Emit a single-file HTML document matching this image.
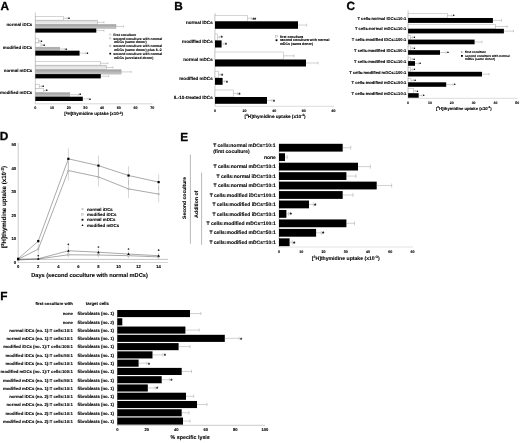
<!DOCTYPE html>
<html><head><meta charset="utf-8"><title>Figure</title>
<style>
html,body{margin:0;padding:0;background:#fff;}
svg{display:block;font-family:"Liberation Sans", sans-serif;text-rendering:geometricPrecision;}
</style></head>
<body>
<svg width="520" height="443" viewBox="0 0 520 443">
<defs>
<linearGradient id="gl" x1="0" y1="0" x2="0" y2="1"><stop offset="0" stop-color="#d4d4d4"/><stop offset="0.45" stop-color="#e6e6e6"/><stop offset="1" stop-color="#f0f0f0"/></linearGradient>
<linearGradient id="gg" x1="0" y1="0" x2="0" y2="1"><stop offset="0" stop-color="#9c9c9c"/><stop offset="0.5" stop-color="#b4b4b4"/><stop offset="1" stop-color="#cacaca"/></linearGradient>
</defs>
<rect x="0" y="0" width="520" height="443" fill="#fff"/>
<g>
<text x="0.40" y="9.90" font-size="11.8" text-anchor="start" font-weight="bold" fill="#000" stroke="#000" stroke-width="0.3">A</text>
<line x1="35.30" y1="12.50" x2="35.30" y2="103.80" stroke="#aaa" stroke-width="0.6"/>
<line x1="35.30" y1="103.80" x2="152.50" y2="103.80" stroke="#bbb" stroke-width="0.6"/>
<text x="32.30" y="26.40" font-size="4.4" text-anchor="end" font-weight="bold" fill="#000" stroke="#000" stroke-width="0.1">normal iDCs</text>
<rect x="35.30" y="16.30" width="28.40" height="3.90" fill="#fff" stroke="#aaa" stroke-width="0.5"/>
<line x1="63.70" y1="18.25" x2="67.20" y2="18.25" stroke="#8c8c8c" stroke-width="0.4"/>
<line x1="67.20" y1="17.25" x2="67.20" y2="19.25" stroke="#8c8c8c" stroke-width="0.4"/>
<text x="68.20" y="19.93" font-size="3.54" text-anchor="start" font-weight="bold" fill="#111" stroke="#111" stroke-width="0.25">*</text>
<rect x="35.30" y="20.20" width="62.00" height="4.20" fill="url(#gl)" stroke="#aaa" stroke-width="0.5"/>
<line x1="97.30" y1="22.30" x2="104.00" y2="22.30" stroke="#8c8c8c" stroke-width="0.4"/>
<line x1="104.00" y1="21.30" x2="104.00" y2="23.30" stroke="#8c8c8c" stroke-width="0.4"/>
<rect x="35.30" y="24.40" width="80.70" height="4.10" fill="url(#gg)" stroke="#aaa" stroke-width="0.5"/>
<line x1="116.00" y1="26.45" x2="123.60" y2="26.45" stroke="#8c8c8c" stroke-width="0.4"/>
<line x1="123.60" y1="25.45" x2="123.60" y2="27.45" stroke="#8c8c8c" stroke-width="0.4"/>
<rect x="35.30" y="28.50" width="61.00" height="4.10" fill="#000"/>
<line x1="96.30" y1="30.55" x2="104.00" y2="30.55" stroke="#8c8c8c" stroke-width="0.4"/>
<line x1="104.00" y1="29.55" x2="104.00" y2="31.55" stroke="#8c8c8c" stroke-width="0.4"/>
<text x="32.30" y="48.80" font-size="4.4" text-anchor="end" font-weight="bold" fill="#000" stroke="#000" stroke-width="0.1">modified iDCs</text>
<rect x="35.30" y="38.80" width="3.00" height="4.10" fill="#fff" stroke="#aaa" stroke-width="0.5"/>
<line x1="38.30" y1="40.85" x2="39.80" y2="40.85" stroke="#8c8c8c" stroke-width="0.4"/>
<line x1="39.80" y1="39.85" x2="39.80" y2="41.85" stroke="#8c8c8c" stroke-width="0.4"/>
<text x="40.80" y="42.53" font-size="3.54" text-anchor="start" font-weight="bold" fill="#111" stroke="#111" stroke-width="0.25">*</text>
<rect x="35.30" y="42.90" width="5.70" height="4.30" fill="#fff" stroke="#aaa" stroke-width="0.5"/>
<line x1="41.00" y1="45.05" x2="42.40" y2="45.05" stroke="#8c8c8c" stroke-width="0.4"/>
<line x1="42.40" y1="44.05" x2="42.40" y2="46.05" stroke="#8c8c8c" stroke-width="0.4"/>
<text x="43.40" y="46.73" font-size="3.54" text-anchor="start" font-weight="bold" fill="#111" stroke="#111" stroke-width="0.25">*</text>
<rect x="35.30" y="47.20" width="24.50" height="3.50" fill="url(#gg)" stroke="#aaa" stroke-width="0.5"/>
<line x1="59.80" y1="48.95" x2="64.40" y2="48.95" stroke="#8c8c8c" stroke-width="0.4"/>
<line x1="64.40" y1="47.95" x2="64.40" y2="49.95" stroke="#8c8c8c" stroke-width="0.4"/>
<text x="65.40" y="50.63" font-size="3.54" text-anchor="start" font-weight="bold" fill="#111" stroke="#111" stroke-width="0.25">*</text>
<rect x="35.30" y="50.70" width="44.30" height="4.90" fill="#000"/>
<line x1="79.60" y1="53.15" x2="85.80" y2="53.15" stroke="#8c8c8c" stroke-width="0.4"/>
<line x1="85.80" y1="52.15" x2="85.80" y2="54.15" stroke="#8c8c8c" stroke-width="0.4"/>
<text x="86.80" y="54.83" font-size="3.54" text-anchor="start" font-weight="bold" fill="#111" stroke="#111" stroke-width="0.25">*</text>
<text x="32.30" y="71.80" font-size="4.4" text-anchor="end" font-weight="bold" fill="#000" stroke="#000" stroke-width="0.1">normal mDCs</text>
<rect x="35.30" y="61.40" width="65.10" height="3.80" fill="#fff" stroke="#aaa" stroke-width="0.5"/>
<line x1="100.40" y1="63.30" x2="107.80" y2="63.30" stroke="#8c8c8c" stroke-width="0.4"/>
<line x1="107.80" y1="62.30" x2="107.80" y2="64.30" stroke="#8c8c8c" stroke-width="0.4"/>
<rect x="35.30" y="65.20" width="70.90" height="4.50" fill="url(#gl)" stroke="#aaa" stroke-width="0.5"/>
<line x1="106.20" y1="67.45" x2="113.00" y2="67.45" stroke="#8c8c8c" stroke-width="0.4"/>
<line x1="113.00" y1="66.45" x2="113.00" y2="68.45" stroke="#8c8c8c" stroke-width="0.4"/>
<rect x="35.30" y="69.70" width="85.80" height="4.40" fill="url(#gg)" stroke="#aaa" stroke-width="0.5"/>
<line x1="121.10" y1="71.90" x2="131.30" y2="71.90" stroke="#8c8c8c" stroke-width="0.4"/>
<line x1="131.30" y1="70.90" x2="131.30" y2="72.90" stroke="#8c8c8c" stroke-width="0.4"/>
<rect x="35.30" y="74.10" width="65.50" height="4.30" fill="#000"/>
<line x1="100.80" y1="76.25" x2="108.80" y2="76.25" stroke="#8c8c8c" stroke-width="0.4"/>
<line x1="108.80" y1="75.25" x2="108.80" y2="77.25" stroke="#8c8c8c" stroke-width="0.4"/>
<text x="32.30" y="94.30" font-size="4.4" text-anchor="end" font-weight="bold" fill="#000" stroke="#000" stroke-width="0.1">modified mDCs</text>
<rect x="35.30" y="84.20" width="3.90" height="4.30" fill="#fff" stroke="#aaa" stroke-width="0.5"/>
<line x1="39.20" y1="86.35" x2="41.50" y2="86.35" stroke="#8c8c8c" stroke-width="0.4"/>
<line x1="41.50" y1="85.35" x2="41.50" y2="87.35" stroke="#8c8c8c" stroke-width="0.4"/>
<text x="42.50" y="88.03" font-size="3.54" text-anchor="start" font-weight="bold" fill="#111" stroke="#111" stroke-width="0.25">*</text>
<rect x="35.30" y="88.50" width="8.30" height="4.20" fill="#fff" stroke="#aaa" stroke-width="0.5"/>
<line x1="43.60" y1="90.60" x2="45.00" y2="90.60" stroke="#8c8c8c" stroke-width="0.4"/>
<line x1="45.00" y1="89.60" x2="45.00" y2="91.60" stroke="#8c8c8c" stroke-width="0.4"/>
<text x="46.00" y="92.28" font-size="3.54" text-anchor="start" font-weight="bold" fill="#111" stroke="#111" stroke-width="0.25">*</text>
<rect x="35.30" y="92.70" width="34.50" height="4.00" fill="url(#gg)" stroke="#aaa" stroke-width="0.5"/>
<line x1="69.80" y1="94.70" x2="78.50" y2="94.70" stroke="#8c8c8c" stroke-width="0.4"/>
<line x1="78.50" y1="93.70" x2="78.50" y2="95.70" stroke="#8c8c8c" stroke-width="0.4"/>
<text x="79.50" y="96.38" font-size="3.54" text-anchor="start" font-weight="bold" fill="#111" stroke="#111" stroke-width="0.25">*</text>
<rect x="35.30" y="96.70" width="47.50" height="4.30" fill="#000"/>
<line x1="82.80" y1="98.85" x2="88.30" y2="98.85" stroke="#8c8c8c" stroke-width="0.4"/>
<line x1="88.30" y1="97.85" x2="88.30" y2="99.85" stroke="#8c8c8c" stroke-width="0.4"/>
<text x="89.30" y="100.53" font-size="3.54" text-anchor="start" font-weight="bold" fill="#111" stroke="#111" stroke-width="0.25">*</text>
<text x="35.30" y="109.10" font-size="3.7" text-anchor="middle" font-weight="bold" fill="#000" stroke="#000" stroke-width="0.1">0</text>
<text x="52.00" y="109.10" font-size="3.7" text-anchor="middle" font-weight="bold" fill="#000" stroke="#000" stroke-width="0.1">10</text>
<text x="68.70" y="109.10" font-size="3.7" text-anchor="middle" font-weight="bold" fill="#000" stroke="#000" stroke-width="0.1">20</text>
<text x="85.40" y="109.10" font-size="3.7" text-anchor="middle" font-weight="bold" fill="#000" stroke="#000" stroke-width="0.1">30</text>
<text x="102.10" y="109.10" font-size="3.7" text-anchor="middle" font-weight="bold" fill="#000" stroke="#000" stroke-width="0.1">40</text>
<text x="118.80" y="109.10" font-size="3.7" text-anchor="middle" font-weight="bold" fill="#000" stroke="#000" stroke-width="0.1">50</text>
<text x="135.50" y="109.10" font-size="3.7" text-anchor="middle" font-weight="bold" fill="#000" stroke="#000" stroke-width="0.1">60</text>
<text x="152.20" y="109.10" font-size="3.7" text-anchor="middle" font-weight="bold" fill="#000" stroke="#000" stroke-width="0.1">70</text>
<text x="93.60" y="115.20" font-size="4.45" text-anchor="middle" font-weight="bold" fill="#000" stroke="#000" stroke-width="0.1">[<tspan font-size="70%" dy="-0.35em">3</tspan><tspan dy="0.245em">H]thymidine uptake (x10</tspan><tspan font-size="70%" dy="-0.35em">-3</tspan><tspan dy="0.245em">)</tspan></text>
<circle cx="110.2" cy="34.60" r="0.85" fill="#fff" stroke="#999" stroke-width="0.35"/>
<text x="113.30" y="35.80" font-size="3.45" text-anchor="start" font-weight="bold" fill="#000" stroke="#000" stroke-width="0.1">first coculture</text>
<circle cx="110.2" cy="38.30" r="0.85" fill="#eee" stroke="#999" stroke-width="0.35"/>
<text x="113.30" y="39.50" font-size="3.45" text-anchor="start" font-weight="bold" fill="#000" stroke="#000" stroke-width="0.1">second coculture with normal</text>
<text x="114.00" y="43.20" font-size="3.45" text-anchor="start" font-weight="bold" fill="#000" stroke="#000" stroke-width="0.1">mDCs (same donor)</text>
<circle cx="110.2" cy="45.90" r="0.85" fill="#bbb" stroke="#999" stroke-width="0.35"/>
<text x="113.30" y="47.10" font-size="3.45" text-anchor="start" font-weight="bold" fill="#000" stroke="#000" stroke-width="0.1">second coculture with normal</text>
<text x="114.00" y="51.10" font-size="3.45" text-anchor="start" font-weight="bold" fill="#000" stroke="#000" stroke-width="0.1">mDCs (same donor) plus IL-2</text>
<rect x="109.40" y="52.80" width="1.70" height="1.70" fill="#000"/>
<text x="113.30" y="54.80" font-size="3.45" text-anchor="start" font-weight="bold" fill="#000" stroke="#000" stroke-width="0.1">second coculture with normal</text>
<text x="114.00" y="58.60" font-size="3.45" text-anchor="start" font-weight="bold" fill="#000" stroke="#000" stroke-width="0.1">mDCs (unrelated donor)</text>
<text x="174.30" y="10.20" font-size="11.8" text-anchor="start" font-weight="bold" fill="#000" stroke="#000" stroke-width="0.3">B</text>
<line x1="215.00" y1="13.00" x2="215.00" y2="106.30" stroke="#aaa" stroke-width="0.6"/>
<line x1="215.00" y1="106.30" x2="334.00" y2="106.30" stroke="#c4c4c4" stroke-width="0.6"/>
<text x="212.70" y="24.00" font-size="4.55" text-anchor="end" font-weight="bold" fill="#000" stroke="#000" stroke-width="0.1">normal iDCs</text>
<rect x="215.00" y="15.40" width="32.70" height="5.90" fill="#fff" stroke="#aaa" stroke-width="0.5"/>
<line x1="247.70" y1="18.35" x2="251.40" y2="18.35" stroke="#8c8c8c" stroke-width="0.4"/>
<line x1="251.40" y1="16.95" x2="251.40" y2="19.75" stroke="#8c8c8c" stroke-width="0.4"/>
<text x="252.40" y="20.69" font-size="4.72" text-anchor="start" font-weight="bold" fill="#111" stroke="#111" stroke-width="0.25">**</text>
<rect x="215.00" y="21.30" width="83.00" height="7.50" fill="#000"/>
<line x1="298.00" y1="25.05" x2="306.70" y2="25.05" stroke="#8c8c8c" stroke-width="0.4"/>
<line x1="306.70" y1="23.65" x2="306.70" y2="26.45" stroke="#8c8c8c" stroke-width="0.4"/>
<text x="212.70" y="42.60" font-size="4.55" text-anchor="end" font-weight="bold" fill="#000" stroke="#000" stroke-width="0.1">modified iDCs</text>
<rect x="215.00" y="33.90" width="2.60" height="6.50" fill="#fff" stroke="#aaa" stroke-width="0.5"/>
<line x1="217.60" y1="37.15" x2="219.70" y2="37.15" stroke="#8c8c8c" stroke-width="0.4"/>
<line x1="219.70" y1="35.75" x2="219.70" y2="38.55" stroke="#8c8c8c" stroke-width="0.4"/>
<text x="220.70" y="39.49" font-size="4.72" text-anchor="start" font-weight="bold" fill="#111" stroke="#111" stroke-width="0.25">*</text>
<rect x="215.00" y="40.40" width="6.60" height="7.10" fill="#000"/>
<line x1="221.60" y1="43.95" x2="224.00" y2="43.95" stroke="#8c8c8c" stroke-width="0.4"/>
<line x1="224.00" y1="42.55" x2="224.00" y2="45.35" stroke="#8c8c8c" stroke-width="0.4"/>
<text x="225.00" y="46.29" font-size="4.72" text-anchor="start" font-weight="bold" fill="#111" stroke="#111" stroke-width="0.25">*</text>
<text x="212.70" y="61.30" font-size="4.55" text-anchor="end" font-weight="bold" fill="#000" stroke="#000" stroke-width="0.1">normal mDCs</text>
<rect x="215.00" y="52.00" width="68.50" height="7.60" fill="#fff" stroke="#aaa" stroke-width="0.5"/>
<line x1="283.50" y1="55.80" x2="294.00" y2="55.80" stroke="#8c8c8c" stroke-width="0.4"/>
<line x1="294.00" y1="54.40" x2="294.00" y2="57.20" stroke="#8c8c8c" stroke-width="0.4"/>
<rect x="215.00" y="59.50" width="91.00" height="7.00" fill="#000"/>
<line x1="306.00" y1="63.00" x2="318.00" y2="63.00" stroke="#8c8c8c" stroke-width="0.4"/>
<line x1="318.00" y1="61.60" x2="318.00" y2="64.40" stroke="#8c8c8c" stroke-width="0.4"/>
<text x="212.70" y="79.80" font-size="4.55" text-anchor="end" font-weight="bold" fill="#000" stroke="#000" stroke-width="0.1">modified mDCs</text>
<rect x="215.00" y="71.20" width="3.60" height="6.70" fill="#fff" stroke="#aaa" stroke-width="0.5"/>
<line x1="218.60" y1="74.55" x2="220.30" y2="74.55" stroke="#8c8c8c" stroke-width="0.4"/>
<line x1="220.30" y1="73.15" x2="220.30" y2="75.95" stroke="#8c8c8c" stroke-width="0.4"/>
<text x="221.30" y="76.89" font-size="4.72" text-anchor="start" font-weight="bold" fill="#111" stroke="#111" stroke-width="0.25">*</text>
<rect x="215.00" y="77.90" width="7.60" height="6.90" fill="#000"/>
<line x1="222.60" y1="81.35" x2="225.00" y2="81.35" stroke="#8c8c8c" stroke-width="0.4"/>
<line x1="225.00" y1="79.95" x2="225.00" y2="82.75" stroke="#8c8c8c" stroke-width="0.4"/>
<text x="226.00" y="83.69" font-size="4.72" text-anchor="start" font-weight="bold" fill="#111" stroke="#111" stroke-width="0.25">*</text>
<text x="212.70" y="98.80" font-size="4.55" text-anchor="end" font-weight="bold" fill="#000" stroke="#000" stroke-width="0.1">IL-10-treated iDCs</text>
<rect x="215.00" y="90.00" width="18.50" height="7.00" fill="#fff" stroke="#aaa" stroke-width="0.5"/>
<line x1="233.50" y1="93.50" x2="237.50" y2="93.50" stroke="#8c8c8c" stroke-width="0.4"/>
<line x1="237.50" y1="92.10" x2="237.50" y2="94.90" stroke="#8c8c8c" stroke-width="0.4"/>
<text x="238.50" y="95.84" font-size="4.72" text-anchor="start" font-weight="bold" fill="#111" stroke="#111" stroke-width="0.25">*</text>
<rect x="215.00" y="97.00" width="52.00" height="6.80" fill="#000"/>
<line x1="267.00" y1="100.40" x2="272.00" y2="100.40" stroke="#8c8c8c" stroke-width="0.4"/>
<line x1="272.00" y1="99.00" x2="272.00" y2="101.80" stroke="#8c8c8c" stroke-width="0.4"/>
<text x="273.00" y="102.74" font-size="4.72" text-anchor="start" font-weight="bold" fill="#111" stroke="#111" stroke-width="0.25">*</text>
<text x="215.00" y="111.80" font-size="3.6" text-anchor="middle" font-weight="bold" fill="#000" stroke="#000" stroke-width="0.1">0</text>
<text x="244.60" y="111.80" font-size="3.6" text-anchor="middle" font-weight="bold" fill="#000" stroke="#000" stroke-width="0.1">20</text>
<text x="274.20" y="111.80" font-size="3.6" text-anchor="middle" font-weight="bold" fill="#000" stroke="#000" stroke-width="0.1">40</text>
<text x="303.80" y="111.80" font-size="3.6" text-anchor="middle" font-weight="bold" fill="#000" stroke="#000" stroke-width="0.1">60</text>
<text x="333.40" y="111.80" font-size="3.6" text-anchor="middle" font-weight="bold" fill="#000" stroke="#000" stroke-width="0.1">80</text>
<text x="275.00" y="117.60" font-size="4.62" text-anchor="middle" font-weight="bold" fill="#000" stroke="#000" stroke-width="0.1">[<tspan font-size="70%" dy="-0.35em">3</tspan><tspan dy="0.245em">H]thymidine uptake (x10</tspan><tspan font-size="70%" dy="-0.35em">-3</tspan><tspan dy="0.245em">)</tspan></text>
<text x="346.60" y="10.20" font-size="11.8" text-anchor="start" font-weight="bold" fill="#000" stroke="#000" stroke-width="0.3">C</text>
<line x1="408.10" y1="10.50" x2="408.10" y2="98.30" stroke="#aaa" stroke-width="0.6"/>
<line x1="408.10" y1="98.30" x2="517.50" y2="98.30" stroke="#c4c4c4" stroke-width="0.6"/>
<text x="406.30" y="20.25" font-size="4.1" text-anchor="end" font-weight="bold" fill="#000" stroke="#000" stroke-width="0.1">T cells:normal iDCs=10:1</text>
<rect x="408.10" y="13.40" width="39.20" height="4.60" fill="#fff" stroke="#aaa" stroke-width="0.5"/>
<line x1="447.30" y1="15.70" x2="452.00" y2="15.70" stroke="#8c8c8c" stroke-width="0.4"/>
<line x1="452.00" y1="14.50" x2="452.00" y2="16.90" stroke="#8c8c8c" stroke-width="0.4"/>
<text x="453.00" y="17.32" font-size="3.4219999999999997" text-anchor="start" font-weight="bold" fill="#111" stroke="#111" stroke-width="0.25">*</text>
<rect x="408.10" y="18.00" width="84.80" height="4.90" fill="#000"/>
<line x1="492.90" y1="20.45" x2="501.50" y2="20.45" stroke="#8c8c8c" stroke-width="0.4"/>
<line x1="501.50" y1="19.25" x2="501.50" y2="21.65" stroke="#8c8c8c" stroke-width="0.4"/>
<text x="406.30" y="30.45" font-size="4.1" text-anchor="end" font-weight="bold" fill="#000" stroke="#000" stroke-width="0.1">T cells:normal mDCs=10:1</text>
<rect x="408.10" y="24.20" width="87.20" height="4.60" fill="#fff" stroke="#aaa" stroke-width="0.5"/>
<line x1="495.30" y1="26.50" x2="507.30" y2="26.50" stroke="#8c8c8c" stroke-width="0.4"/>
<line x1="507.30" y1="25.30" x2="507.30" y2="27.70" stroke="#8c8c8c" stroke-width="0.4"/>
<rect x="408.10" y="28.80" width="95.80" height="4.60" fill="#000"/>
<line x1="503.90" y1="31.10" x2="513.50" y2="31.10" stroke="#8c8c8c" stroke-width="0.4"/>
<line x1="513.50" y1="29.90" x2="513.50" y2="32.30" stroke="#8c8c8c" stroke-width="0.4"/>
<text x="406.30" y="41.25" font-size="4.1" text-anchor="end" font-weight="bold" fill="#000" stroke="#000" stroke-width="0.1">T cells:modified iDCs=100:1</text>
<rect x="408.10" y="35.30" width="2.30" height="4.30" fill="#fff" stroke="#aaa" stroke-width="0.5"/>
<line x1="410.40" y1="37.45" x2="412.70" y2="37.45" stroke="#8c8c8c" stroke-width="0.4"/>
<line x1="412.70" y1="36.25" x2="412.70" y2="38.65" stroke="#8c8c8c" stroke-width="0.4"/>
<text x="413.70" y="39.07" font-size="3.4219999999999997" text-anchor="start" font-weight="bold" fill="#111" stroke="#111" stroke-width="0.25">*</text>
<rect x="408.10" y="39.60" width="66.50" height="4.70" fill="#000"/>
<line x1="474.60" y1="41.95" x2="482.00" y2="41.95" stroke="#8c8c8c" stroke-width="0.4"/>
<line x1="482.00" y1="40.75" x2="482.00" y2="43.15" stroke="#8c8c8c" stroke-width="0.4"/>
<text x="406.30" y="51.95" font-size="4.1" text-anchor="end" font-weight="bold" fill="#000" stroke="#000" stroke-width="0.1">T cells:modified iDCs=50:1</text>
<rect x="408.10" y="46.00" width="2.30" height="4.20" fill="#fff" stroke="#aaa" stroke-width="0.5"/>
<line x1="410.40" y1="48.10" x2="412.70" y2="48.10" stroke="#8c8c8c" stroke-width="0.4"/>
<line x1="412.70" y1="46.90" x2="412.70" y2="49.30" stroke="#8c8c8c" stroke-width="0.4"/>
<text x="413.70" y="49.72" font-size="3.4219999999999997" text-anchor="start" font-weight="bold" fill="#111" stroke="#111" stroke-width="0.25">*</text>
<rect x="408.10" y="50.20" width="31.90" height="4.60" fill="#000"/>
<line x1="440.00" y1="52.50" x2="446.20" y2="52.50" stroke="#8c8c8c" stroke-width="0.4"/>
<line x1="446.20" y1="51.30" x2="446.20" y2="53.70" stroke="#8c8c8c" stroke-width="0.4"/>
<text x="447.20" y="54.12" font-size="3.4219999999999997" text-anchor="start" font-weight="bold" fill="#111" stroke="#111" stroke-width="0.25">*</text>
<text x="406.30" y="62.55" font-size="4.1" text-anchor="end" font-weight="bold" fill="#000" stroke="#000" stroke-width="0.1">T cells:modified iDCs=10:1</text>
<rect x="408.10" y="57.20" width="2.30" height="3.90" fill="#fff" stroke="#aaa" stroke-width="0.5"/>
<line x1="410.40" y1="59.15" x2="412.50" y2="59.15" stroke="#8c8c8c" stroke-width="0.4"/>
<line x1="412.50" y1="57.95" x2="412.50" y2="60.35" stroke="#8c8c8c" stroke-width="0.4"/>
<text x="413.50" y="60.77" font-size="3.4219999999999997" text-anchor="start" font-weight="bold" fill="#111" stroke="#111" stroke-width="0.25">*</text>
<rect x="408.10" y="61.10" width="6.90" height="4.70" fill="#000"/>
<line x1="415.00" y1="63.45" x2="418.50" y2="63.45" stroke="#8c8c8c" stroke-width="0.4"/>
<line x1="418.50" y1="62.25" x2="418.50" y2="64.65" stroke="#8c8c8c" stroke-width="0.4"/>
<text x="419.50" y="65.07" font-size="3.4219999999999997" text-anchor="start" font-weight="bold" fill="#111" stroke="#111" stroke-width="0.25">*</text>
<text x="406.30" y="73.65" font-size="4.1" text-anchor="end" font-weight="bold" fill="#000" stroke="#000" stroke-width="0.1">T cells:modified mDCs=100:1</text>
<rect x="408.10" y="67.70" width="2.30" height="4.10" fill="#fff" stroke="#aaa" stroke-width="0.5"/>
<line x1="410.40" y1="69.75" x2="412.70" y2="69.75" stroke="#8c8c8c" stroke-width="0.4"/>
<line x1="412.70" y1="68.55" x2="412.70" y2="70.95" stroke="#8c8c8c" stroke-width="0.4"/>
<text x="413.70" y="71.37" font-size="3.4219999999999997" text-anchor="start" font-weight="bold" fill="#111" stroke="#111" stroke-width="0.25">*</text>
<rect x="408.10" y="71.80" width="73.90" height="4.70" fill="#000"/>
<line x1="482.00" y1="74.15" x2="489.00" y2="74.15" stroke="#8c8c8c" stroke-width="0.4"/>
<line x1="489.00" y1="72.95" x2="489.00" y2="75.35" stroke="#8c8c8c" stroke-width="0.4"/>
<text x="406.30" y="84.05" font-size="4.1" text-anchor="end" font-weight="bold" fill="#000" stroke="#000" stroke-width="0.1">T cells:modified mDCs=50:1</text>
<rect x="408.10" y="78.50" width="2.90" height="3.80" fill="#fff" stroke="#aaa" stroke-width="0.5"/>
<line x1="411.00" y1="80.40" x2="413.50" y2="80.40" stroke="#8c8c8c" stroke-width="0.4"/>
<line x1="413.50" y1="79.20" x2="413.50" y2="81.60" stroke="#8c8c8c" stroke-width="0.4"/>
<text x="414.50" y="82.02" font-size="3.4219999999999997" text-anchor="start" font-weight="bold" fill="#111" stroke="#111" stroke-width="0.25">*</text>
<rect x="408.10" y="82.30" width="38.10" height="4.50" fill="#000"/>
<line x1="446.20" y1="84.55" x2="453.00" y2="84.55" stroke="#8c8c8c" stroke-width="0.4"/>
<line x1="453.00" y1="83.35" x2="453.00" y2="85.75" stroke="#8c8c8c" stroke-width="0.4"/>
<text x="454.00" y="86.17" font-size="3.4219999999999997" text-anchor="start" font-weight="bold" fill="#111" stroke="#111" stroke-width="0.25">*</text>
<text x="406.30" y="94.55" font-size="4.1" text-anchor="end" font-weight="bold" fill="#000" stroke="#000" stroke-width="0.1">T cells:modified mDCs=10:1</text>
<rect x="408.10" y="88.70" width="5.30" height="4.50" fill="#fff" stroke="#aaa" stroke-width="0.5"/>
<line x1="413.40" y1="90.95" x2="415.80" y2="90.95" stroke="#8c8c8c" stroke-width="0.4"/>
<line x1="415.80" y1="89.75" x2="415.80" y2="92.15" stroke="#8c8c8c" stroke-width="0.4"/>
<text x="416.80" y="92.57" font-size="3.4219999999999997" text-anchor="start" font-weight="bold" fill="#111" stroke="#111" stroke-width="0.25">*</text>
<rect x="408.10" y="93.20" width="10.60" height="4.50" fill="#000"/>
<line x1="418.70" y1="95.45" x2="422.00" y2="95.45" stroke="#8c8c8c" stroke-width="0.4"/>
<line x1="422.00" y1="94.25" x2="422.00" y2="96.65" stroke="#8c8c8c" stroke-width="0.4"/>
<text x="423.00" y="97.07" font-size="3.4219999999999997" text-anchor="start" font-weight="bold" fill="#111" stroke="#111" stroke-width="0.25">*</text>
<text x="408.10" y="103.50" font-size="3.5" text-anchor="middle" font-weight="bold" fill="#000" stroke="#000" stroke-width="0.1">0</text>
<text x="429.93" y="103.50" font-size="3.5" text-anchor="middle" font-weight="bold" fill="#000" stroke="#000" stroke-width="0.1">10</text>
<text x="451.76" y="103.50" font-size="3.5" text-anchor="middle" font-weight="bold" fill="#000" stroke="#000" stroke-width="0.1">20</text>
<text x="473.59" y="103.50" font-size="3.5" text-anchor="middle" font-weight="bold" fill="#000" stroke="#000" stroke-width="0.1">30</text>
<text x="495.42" y="103.50" font-size="3.5" text-anchor="middle" font-weight="bold" fill="#000" stroke="#000" stroke-width="0.1">40</text>
<text x="517.25" y="103.50" font-size="3.5" text-anchor="middle" font-weight="bold" fill="#000" stroke="#000" stroke-width="0.1">50</text>
<text x="463.80" y="109.50" font-size="4.22" text-anchor="middle" font-weight="bold" fill="#000" stroke="#000" stroke-width="0.1">[<tspan font-size="70%" dy="-0.35em">3</tspan><tspan dy="0.245em">H]thymidine uptake (x10</tspan><tspan font-size="70%" dy="-0.35em">-3</tspan><tspan dy="0.245em">)</tspan></text>
<rect x="461.10" y="51.30" width="1.60" height="1.60" fill="#fff" stroke="#999" stroke-width="0.35"/>
<rect x="461.00" y="55.00" width="1.80" height="1.80" fill="#000"/>
<text x="465.00" y="53.20" font-size="3.17" text-anchor="start" font-weight="bold" fill="#000" stroke="#000" stroke-width="0.1">first coculture</text>
<text x="465.00" y="57.00" font-size="3.17" text-anchor="start" font-weight="bold" fill="#000" stroke="#000" stroke-width="0.1">second coculture with normal</text>
<text x="465.00" y="60.10" font-size="3.17" text-anchor="start" font-weight="bold" fill="#000" stroke="#000" stroke-width="0.1">mDCs (same donor)</text>
<rect x="275.70" y="35.50" width="1.60" height="1.60" fill="#fff" stroke="#888" stroke-width="0.35"/>
<rect x="275.60" y="39.30" width="1.80" height="1.80" fill="#000"/>
<text x="-0.30" y="140.40" font-size="11.8" text-anchor="start" font-weight="bold" fill="#000" stroke="#000" stroke-width="0.3">D</text>
<line x1="18.20" y1="143.00" x2="18.20" y2="262.80" stroke="#aaa" stroke-width="0.6"/>
<line x1="18.20" y1="262.50" x2="168.00" y2="262.50" stroke="#bbb" stroke-width="0.6"/>
<line x1="18.20" y1="259.40" x2="168.00" y2="259.40" stroke="#888" stroke-width="0.5"/>
<text x="16.20" y="263.80" font-size="4.2" text-anchor="end" font-weight="bold" fill="#000" stroke="#000" stroke-width="0.1">0</text>
<text x="16.20" y="240.28" font-size="4.2" text-anchor="end" font-weight="bold" fill="#000" stroke="#000" stroke-width="0.1">10</text>
<text x="16.20" y="216.76" font-size="4.2" text-anchor="end" font-weight="bold" fill="#000" stroke="#000" stroke-width="0.1">20</text>
<text x="16.20" y="193.24" font-size="4.2" text-anchor="end" font-weight="bold" fill="#000" stroke="#000" stroke-width="0.1">30</text>
<text x="16.20" y="169.72" font-size="4.2" text-anchor="end" font-weight="bold" fill="#000" stroke="#000" stroke-width="0.1">40</text>
<text x="16.20" y="146.20" font-size="4.2" text-anchor="end" font-weight="bold" fill="#000" stroke="#000" stroke-width="0.1">50</text>
<text x="18.20" y="268.40" font-size="4.2" text-anchor="middle" font-weight="bold" fill="#000" stroke="#000" stroke-width="0.1">0</text>
<text x="38.26" y="268.40" font-size="4.2" text-anchor="middle" font-weight="bold" fill="#000" stroke="#000" stroke-width="0.1">2</text>
<text x="58.32" y="268.40" font-size="4.2" text-anchor="middle" font-weight="bold" fill="#000" stroke="#000" stroke-width="0.1">4</text>
<text x="78.38" y="268.40" font-size="4.2" text-anchor="middle" font-weight="bold" fill="#000" stroke="#000" stroke-width="0.1">6</text>
<text x="98.44" y="268.40" font-size="4.2" text-anchor="middle" font-weight="bold" fill="#000" stroke="#000" stroke-width="0.1">8</text>
<text x="118.50" y="268.40" font-size="4.2" text-anchor="middle" font-weight="bold" fill="#000" stroke="#000" stroke-width="0.1">10</text>
<text x="138.56" y="268.40" font-size="4.2" text-anchor="middle" font-weight="bold" fill="#000" stroke="#000" stroke-width="0.1">12</text>
<text x="158.62" y="268.40" font-size="4.2" text-anchor="middle" font-weight="bold" fill="#000" stroke="#000" stroke-width="0.1">14</text>
<text x="6.00" y="207.00" font-size="6.2" text-anchor="middle" font-weight="bold" fill="#000" stroke="#000" stroke-width="0.1" transform="rotate(-90 6.00 207.00)">[<tspan font-size="70%" dy="-0.35em">3</tspan><tspan dy="0.245em">H]thymidine uptake (x10</tspan><tspan font-size="70%" dy="-0.35em">-3</tspan><tspan dy="0.245em">)</tspan></text>
<text x="89.50" y="276.90" font-size="5.65" text-anchor="middle" font-weight="bold" fill="#000" stroke="#000" stroke-width="0.1">Days (second coculture with normal mDCs)</text>
<polyline points="18.20,259.24 38.26,249.13 68.35,170.57 98.44,176.92 128.53,188.92 158.62,194.09" fill="none" stroke="#555" stroke-width="0.5"/>
<line x1="38.26" y1="244.42" x2="38.26" y2="253.83" stroke="#999" stroke-width="0.4"/>
<line x1="68.35" y1="160.69" x2="68.35" y2="180.45" stroke="#999" stroke-width="0.4"/>
<line x1="98.44" y1="167.51" x2="98.44" y2="186.33" stroke="#999" stroke-width="0.4"/>
<line x1="128.53" y1="179.98" x2="128.53" y2="197.86" stroke="#999" stroke-width="0.4"/>
<line x1="158.62" y1="185.86" x2="158.62" y2="202.32" stroke="#999" stroke-width="0.4"/>
<polyline points="18.20,258.77 38.26,241.13 68.35,158.81 98.44,165.63 128.53,175.51 158.62,182.10" fill="none" stroke="#555" stroke-width="0.5"/>
<line x1="38.26" y1="238.78" x2="38.26" y2="243.48" stroke="#999" stroke-width="0.4"/>
<line x1="68.35" y1="148.23" x2="68.35" y2="169.40" stroke="#999" stroke-width="0.4"/>
<line x1="98.44" y1="155.52" x2="98.44" y2="175.75" stroke="#999" stroke-width="0.4"/>
<line x1="128.53" y1="166.10" x2="128.53" y2="184.92" stroke="#999" stroke-width="0.4"/>
<line x1="158.62" y1="174.34" x2="158.62" y2="189.86" stroke="#999" stroke-width="0.4"/>
<polyline points="18.20,259.95 38.26,259.01 68.35,254.77 98.44,255.01 128.53,255.71 158.62,256.89" fill="none" stroke="#555" stroke-width="0.5"/>
<line x1="38.26" y1="257.83" x2="38.26" y2="260.18" stroke="#999" stroke-width="0.4"/>
<line x1="68.35" y1="251.95" x2="68.35" y2="257.60" stroke="#999" stroke-width="0.4"/>
<line x1="98.44" y1="252.66" x2="98.44" y2="257.36" stroke="#999" stroke-width="0.4"/>
<line x1="128.53" y1="253.36" x2="128.53" y2="258.07" stroke="#999" stroke-width="0.4"/>
<line x1="158.62" y1="255.01" x2="158.62" y2="258.77" stroke="#999" stroke-width="0.4"/>
<polyline points="18.20,259.24 38.26,258.77 68.35,250.78 98.44,252.19 128.53,254.07 158.62,255.71" fill="none" stroke="#555" stroke-width="0.5"/>
<line x1="38.26" y1="257.60" x2="38.26" y2="259.95" stroke="#999" stroke-width="0.4"/>
<line x1="68.35" y1="245.60" x2="68.35" y2="255.95" stroke="#999" stroke-width="0.4"/>
<line x1="98.44" y1="249.13" x2="98.44" y2="255.24" stroke="#999" stroke-width="0.4"/>
<line x1="128.53" y1="251.25" x2="128.53" y2="256.89" stroke="#999" stroke-width="0.4"/>
<line x1="158.62" y1="252.89" x2="158.62" y2="258.54" stroke="#999" stroke-width="0.4"/>
<circle cx="18.20" cy="259.24" r="0.9" fill="#ccc" stroke="#888" stroke-width="0.3"/>
<circle cx="38.26" cy="249.13" r="0.9" fill="#ccc" stroke="#888" stroke-width="0.3"/>
<circle cx="68.35" cy="170.57" r="0.9" fill="#ccc" stroke="#888" stroke-width="0.3"/>
<circle cx="98.44" cy="176.92" r="0.9" fill="#ccc" stroke="#888" stroke-width="0.3"/>
<circle cx="128.53" cy="188.92" r="0.9" fill="#ccc" stroke="#888" stroke-width="0.3"/>
<circle cx="158.62" cy="194.09" r="0.9" fill="#ccc" stroke="#888" stroke-width="0.3"/>
<rect x="17.40" y="259.15" width="1.60" height="1.60" fill="#ddd" stroke="#888" stroke-width="0.3"/>
<rect x="37.46" y="258.21" width="1.60" height="1.60" fill="#ddd" stroke="#888" stroke-width="0.3"/>
<rect x="67.55" y="253.97" width="1.60" height="1.60" fill="#ddd" stroke="#888" stroke-width="0.3"/>
<rect x="97.64" y="254.21" width="1.60" height="1.60" fill="#ddd" stroke="#888" stroke-width="0.3"/>
<rect x="127.73" y="254.91" width="1.60" height="1.60" fill="#ddd" stroke="#888" stroke-width="0.3"/>
<rect x="157.82" y="256.09" width="1.60" height="1.60" fill="#ddd" stroke="#888" stroke-width="0.3"/>
<rect x="17.10" y="257.67" width="2.20" height="2.20" fill="#000"/>
<rect x="37.16" y="240.03" width="2.20" height="2.20" fill="#000"/>
<rect x="67.25" y="157.71" width="2.20" height="2.20" fill="#000"/>
<rect x="97.34" y="164.53" width="2.20" height="2.20" fill="#000"/>
<rect x="127.43" y="174.41" width="2.20" height="2.20" fill="#000"/>
<rect x="157.52" y="181.00" width="2.20" height="2.20" fill="#000"/>
<polygon points="16.90,260.24 19.50,260.24 18.20,257.94" fill="#000"/>
<polygon points="36.96,259.77 39.56,259.77 38.26,257.47" fill="#000"/>
<polygon points="67.05,251.78 69.65,251.78 68.35,249.48" fill="#000"/>
<polygon points="97.14,253.19 99.74,253.19 98.44,250.89" fill="#000"/>
<polygon points="127.23,255.07 129.83,255.07 128.53,252.77" fill="#000"/>
<polygon points="157.32,256.71 159.92,256.71 158.62,254.41" fill="#000"/>
<circle cx="38.26" cy="255.70" r="0.85" fill="#222"/>
<circle cx="68.35" cy="244.30" r="0.85" fill="#222"/>
<circle cx="98.44" cy="247.00" r="0.85" fill="#222"/>
<circle cx="128.53" cy="249.00" r="0.85" fill="#222"/>
<circle cx="158.62" cy="250.20" r="0.85" fill="#222"/>
<circle cx="82.5" cy="209.10" r="0.9" fill="#ccc" stroke="#999" stroke-width="0.3"/>
<text x="86.90" y="210.65" font-size="4.4" text-anchor="start" font-weight="bold" fill="#000" stroke="#000" stroke-width="0.1">normal iDCs</text>
<rect x="81.70" y="213.62" width="1.60" height="1.60" fill="#ddd" stroke="#999" stroke-width="0.3"/>
<text x="86.90" y="215.97" font-size="4.4" text-anchor="start" font-weight="bold" fill="#000" stroke="#000" stroke-width="0.1">modified iDCs</text>
<rect x="81.60" y="218.84" width="1.80" height="1.80" fill="#000"/>
<text x="86.90" y="221.29" font-size="4.4" text-anchor="start" font-weight="bold" fill="#000" stroke="#000" stroke-width="0.1">normal mDCs</text>
<polygon points="81.50,225.96 83.50,225.96 82.50,224.06" fill="#000"/>
<text x="86.90" y="226.61" font-size="4.4" text-anchor="start" font-weight="bold" fill="#000" stroke="#000" stroke-width="0.1">modified mDCs</text>
<text x="180.20" y="140.60" font-size="11.8" text-anchor="start" font-weight="bold" fill="#000" stroke="#000" stroke-width="0.3">E</text>
<line x1="279.20" y1="144.00" x2="279.20" y2="247.00" stroke="#999" stroke-width="0.6"/>
<line x1="279.00" y1="247.00" x2="413.00" y2="247.00" stroke="#d0d0d0" stroke-width="0.6"/>
<rect x="279.00" y="143.80" width="63.70" height="7.80" fill="#000"/>
<line x1="342.70" y1="147.70" x2="350.80" y2="147.70" stroke="#8c8c8c" stroke-width="0.4"/>
<line x1="350.80" y1="145.70" x2="350.80" y2="149.70" stroke="#8c8c8c" stroke-width="0.4"/>
<text x="213.20" y="146.70" font-size="4.98" text-anchor="start" font-weight="bold" fill="#000" stroke="#000" stroke-width="0.1">T cells:normal mDCs=10:1</text>
<text x="213.20" y="153.00" font-size="4.98" text-anchor="start" font-weight="bold" fill="#000" stroke="#000" stroke-width="0.1">(first coculture)</text>
<rect x="279.00" y="153.26" width="6.00" height="7.80" fill="#000"/>
<line x1="285.00" y1="157.16" x2="287.30" y2="157.16" stroke="#8c8c8c" stroke-width="0.4"/>
<line x1="287.30" y1="155.16" x2="287.30" y2="159.16" stroke="#8c8c8c" stroke-width="0.4"/>
<text x="275.80" y="158.81" font-size="4.98" text-anchor="end" font-weight="bold" fill="#000" stroke="#000" stroke-width="0.1">none</text>
<rect x="279.00" y="162.71" width="79.00" height="7.80" fill="#000"/>
<line x1="358.00" y1="166.61" x2="370.40" y2="166.61" stroke="#8c8c8c" stroke-width="0.4"/>
<line x1="370.40" y1="164.61" x2="370.40" y2="168.61" stroke="#8c8c8c" stroke-width="0.4"/>
<text x="275.80" y="168.26" font-size="4.98" text-anchor="end" font-weight="bold" fill="#000" stroke="#000" stroke-width="0.1">T cells:normal mDCs=10:1</text>
<rect x="279.00" y="172.17" width="67.40" height="7.80" fill="#000"/>
<line x1="346.40" y1="176.07" x2="356.00" y2="176.07" stroke="#8c8c8c" stroke-width="0.4"/>
<line x1="356.00" y1="174.07" x2="356.00" y2="178.07" stroke="#8c8c8c" stroke-width="0.4"/>
<text x="275.80" y="177.72" font-size="4.98" text-anchor="end" font-weight="bold" fill="#000" stroke="#000" stroke-width="0.1">T cells:normal iDCs=10:1</text>
<rect x="279.00" y="181.62" width="97.70" height="7.80" fill="#000"/>
<line x1="376.70" y1="185.52" x2="391.70" y2="185.52" stroke="#8c8c8c" stroke-width="0.4"/>
<line x1="391.70" y1="183.52" x2="391.70" y2="187.52" stroke="#8c8c8c" stroke-width="0.4"/>
<text x="275.80" y="187.17" font-size="4.98" text-anchor="end" font-weight="bold" fill="#000" stroke="#000" stroke-width="0.1">T cells:normal mDCs=10:1</text>
<rect x="279.00" y="191.08" width="63.70" height="7.80" fill="#000"/>
<line x1="342.70" y1="194.98" x2="353.00" y2="194.98" stroke="#8c8c8c" stroke-width="0.4"/>
<line x1="353.00" y1="192.98" x2="353.00" y2="196.98" stroke="#8c8c8c" stroke-width="0.4"/>
<text x="275.80" y="196.63" font-size="4.98" text-anchor="end" font-weight="bold" fill="#000" stroke="#000" stroke-width="0.1">T cells:modified iDCs=100:1</text>
<rect x="279.00" y="200.53" width="30.00" height="7.80" fill="#000"/>
<line x1="309.00" y1="204.43" x2="313.30" y2="204.43" stroke="#8c8c8c" stroke-width="0.4"/>
<line x1="313.30" y1="202.43" x2="313.30" y2="206.43" stroke="#8c8c8c" stroke-width="0.4"/>
<text x="314.30" y="206.91" font-size="4.9559999999999995" text-anchor="start" font-weight="bold" fill="#111" stroke="#111" stroke-width="0.25">*</text>
<text x="275.80" y="206.08" font-size="4.98" text-anchor="end" font-weight="bold" fill="#000" stroke="#000" stroke-width="0.1">T cells:modified iDCs=50:1</text>
<rect x="279.00" y="209.99" width="7.40" height="7.80" fill="#000"/>
<line x1="286.40" y1="213.89" x2="288.70" y2="213.89" stroke="#8c8c8c" stroke-width="0.4"/>
<line x1="288.70" y1="211.89" x2="288.70" y2="215.89" stroke="#8c8c8c" stroke-width="0.4"/>
<text x="289.70" y="216.36" font-size="4.9559999999999995" text-anchor="start" font-weight="bold" fill="#111" stroke="#111" stroke-width="0.25">*</text>
<text x="275.80" y="215.54" font-size="4.98" text-anchor="end" font-weight="bold" fill="#000" stroke="#000" stroke-width="0.1">T cells:modified iDCs=10:1</text>
<rect x="279.00" y="219.44" width="67.40" height="7.80" fill="#000"/>
<line x1="346.40" y1="223.34" x2="354.50" y2="223.34" stroke="#8c8c8c" stroke-width="0.4"/>
<line x1="354.50" y1="221.34" x2="354.50" y2="225.34" stroke="#8c8c8c" stroke-width="0.4"/>
<text x="275.80" y="224.99" font-size="4.98" text-anchor="end" font-weight="bold" fill="#000" stroke="#000" stroke-width="0.1">T cells:modified mDCs=100:1</text>
<rect x="279.00" y="228.90" width="37.10" height="7.80" fill="#000"/>
<line x1="316.10" y1="232.80" x2="321.30" y2="232.80" stroke="#8c8c8c" stroke-width="0.4"/>
<line x1="321.30" y1="230.80" x2="321.30" y2="234.80" stroke="#8c8c8c" stroke-width="0.4"/>
<text x="322.30" y="235.27" font-size="4.9559999999999995" text-anchor="start" font-weight="bold" fill="#111" stroke="#111" stroke-width="0.25">*</text>
<text x="275.80" y="234.45" font-size="4.98" text-anchor="end" font-weight="bold" fill="#000" stroke="#000" stroke-width="0.1">T cells:modified mDCs=50:1</text>
<rect x="279.00" y="238.35" width="10.60" height="7.80" fill="#000"/>
<line x1="289.60" y1="242.25" x2="292.20" y2="242.25" stroke="#8c8c8c" stroke-width="0.4"/>
<line x1="292.20" y1="240.25" x2="292.20" y2="244.25" stroke="#8c8c8c" stroke-width="0.4"/>
<text x="293.20" y="244.73" font-size="4.9559999999999995" text-anchor="start" font-weight="bold" fill="#111" stroke="#111" stroke-width="0.25">*</text>
<text x="275.80" y="243.90" font-size="4.98" text-anchor="end" font-weight="bold" fill="#000" stroke="#000" stroke-width="0.1">T cells:modified mDCs=10:1</text>
<text x="279.00" y="252.70" font-size="3.7" text-anchor="middle" font-weight="bold" fill="#000" stroke="#000" stroke-width="0.1">0</text>
<text x="301.25" y="252.70" font-size="3.7" text-anchor="middle" font-weight="bold" fill="#000" stroke="#000" stroke-width="0.1">10</text>
<text x="323.50" y="252.70" font-size="3.7" text-anchor="middle" font-weight="bold" fill="#000" stroke="#000" stroke-width="0.1">20</text>
<text x="345.75" y="252.70" font-size="3.7" text-anchor="middle" font-weight="bold" fill="#000" stroke="#000" stroke-width="0.1">30</text>
<text x="368.00" y="252.70" font-size="3.7" text-anchor="middle" font-weight="bold" fill="#000" stroke="#000" stroke-width="0.1">40</text>
<text x="390.25" y="252.70" font-size="3.7" text-anchor="middle" font-weight="bold" fill="#000" stroke="#000" stroke-width="0.1">50</text>
<text x="412.50" y="252.70" font-size="3.7" text-anchor="middle" font-weight="bold" fill="#000" stroke="#000" stroke-width="0.1">60</text>
<text x="345.70" y="259.60" font-size="5.13" text-anchor="middle" font-weight="bold" fill="#000" stroke="#000" stroke-width="0.1">[<tspan font-size="70%" dy="-0.35em">3</tspan><tspan dy="0.245em">H]thymidine uptake (x10</tspan><tspan font-size="70%" dy="-0.35em">-3</tspan><tspan dy="0.245em">)</tspan></text>
<line x1="190.40" y1="154.50" x2="190.40" y2="243.70" stroke="#888" stroke-width="0.6"/>
<line x1="201.60" y1="172.60" x2="201.60" y2="244.80" stroke="#888" stroke-width="0.6"/>
<text x="185.80" y="197.90" font-size="5.0" text-anchor="middle" font-weight="bold" fill="#000" stroke="#000" stroke-width="0.1" transform="rotate(-90 185.80 197.90)">Second coculture</text>
<text x="198.20" y="204.20" font-size="5.1" text-anchor="middle" font-weight="bold" fill="#000" stroke="#000" stroke-width="0.1" transform="rotate(-90 198.20 204.20)">Addition of</text>
<text x="0.30" y="299.70" font-size="11.8" text-anchor="start" font-weight="bold" fill="#000" stroke="#000" stroke-width="0.3">F</text>
<line x1="117.50" y1="310.30" x2="117.50" y2="425.60" stroke="#999" stroke-width="0.6"/>
<line x1="117.30" y1="425.30" x2="265.00" y2="425.30" stroke="#b4b4b4" stroke-width="0.7"/>
<text x="72.90" y="304.80" font-size="4.2" text-anchor="end" font-weight="bold" fill="#000" stroke="#000" stroke-width="0.1">first coculture with</text>
<text x="85.80" y="304.80" font-size="4.4" text-anchor="start" font-weight="bold" fill="#000" stroke="#000" stroke-width="0.1">target cells</text>
<rect x="117.30" y="310.00" width="72.70" height="7.10" fill="#000"/>
<line x1="190.00" y1="313.55" x2="200.80" y2="313.55" stroke="#8c8c8c" stroke-width="0.4"/>
<line x1="200.80" y1="311.95" x2="200.80" y2="315.15" stroke="#8c8c8c" stroke-width="0.4"/>
<text x="72.90" y="315.35" font-size="4.28" text-anchor="end" font-weight="bold" fill="#000" stroke="#000" stroke-width="0.1">none</text>
<text x="77.60" y="315.35" font-size="4.35" text-anchor="start" font-weight="bold" fill="#000" stroke="#000" stroke-width="0.1">fibroblasts (no. 1)</text>
<rect x="117.30" y="318.27" width="5.00" height="7.10" fill="#000"/>
<text x="72.90" y="323.62" font-size="4.28" text-anchor="end" font-weight="bold" fill="#000" stroke="#000" stroke-width="0.1">none</text>
<text x="77.60" y="323.62" font-size="4.35" text-anchor="start" font-weight="bold" fill="#000" stroke="#000" stroke-width="0.1">fibroblasts (no. 2)</text>
<rect x="117.30" y="326.54" width="68.10" height="7.10" fill="#000"/>
<line x1="185.40" y1="330.09" x2="199.20" y2="330.09" stroke="#8c8c8c" stroke-width="0.4"/>
<line x1="199.20" y1="328.49" x2="199.20" y2="331.69" stroke="#8c8c8c" stroke-width="0.4"/>
<text x="72.90" y="331.89" font-size="4.28" text-anchor="end" font-weight="bold" fill="#000" stroke="#000" stroke-width="0.1">normal iDCs (no. 1):T cells:10:1</text>
<text x="77.60" y="331.89" font-size="4.35" text-anchor="start" font-weight="bold" fill="#000" stroke="#000" stroke-width="0.1">fibroblasts (no. 1)</text>
<rect x="117.30" y="334.81" width="107.50" height="7.10" fill="#000"/>
<line x1="224.80" y1="338.36" x2="239.20" y2="338.36" stroke="#8c8c8c" stroke-width="0.4"/>
<line x1="239.20" y1="336.76" x2="239.20" y2="339.96" stroke="#8c8c8c" stroke-width="0.4"/>
<text x="240.20" y="340.70" font-size="4.72" text-anchor="start" font-weight="bold" fill="#111" stroke="#111" stroke-width="0.25">*</text>
<text x="72.90" y="340.16" font-size="4.28" text-anchor="end" font-weight="bold" fill="#000" stroke="#000" stroke-width="0.1">normal mDCs (no. 1):T cells:10:1</text>
<text x="77.60" y="340.16" font-size="4.35" text-anchor="start" font-weight="bold" fill="#000" stroke="#000" stroke-width="0.1">fibroblasts (no. 1)</text>
<rect x="117.30" y="343.08" width="61.30" height="7.10" fill="#000"/>
<line x1="178.60" y1="346.63" x2="190.00" y2="346.63" stroke="#8c8c8c" stroke-width="0.4"/>
<line x1="190.00" y1="345.03" x2="190.00" y2="348.23" stroke="#8c8c8c" stroke-width="0.4"/>
<text x="72.90" y="348.43" font-size="4.28" text-anchor="end" font-weight="bold" fill="#000" stroke="#000" stroke-width="0.1">modified iDCs (no. 1):T cells:100:1</text>
<text x="77.60" y="348.43" font-size="4.35" text-anchor="start" font-weight="bold" fill="#000" stroke="#000" stroke-width="0.1">fibroblasts (no. 1)</text>
<rect x="117.30" y="351.35" width="35.20" height="7.10" fill="#000"/>
<line x1="152.50" y1="354.90" x2="163.00" y2="354.90" stroke="#8c8c8c" stroke-width="0.4"/>
<line x1="163.00" y1="353.30" x2="163.00" y2="356.50" stroke="#8c8c8c" stroke-width="0.4"/>
<text x="164.00" y="357.24" font-size="4.72" text-anchor="start" font-weight="bold" fill="#111" stroke="#111" stroke-width="0.25">*</text>
<text x="72.90" y="356.70" font-size="4.28" text-anchor="end" font-weight="bold" fill="#000" stroke="#000" stroke-width="0.1">modified iDCs (no. 1):T cells:50:1</text>
<text x="77.60" y="356.70" font-size="4.35" text-anchor="start" font-weight="bold" fill="#000" stroke="#000" stroke-width="0.1">fibroblasts (no. 1)</text>
<rect x="117.30" y="359.62" width="21.30" height="7.10" fill="#000"/>
<line x1="138.60" y1="363.17" x2="147.00" y2="363.17" stroke="#8c8c8c" stroke-width="0.4"/>
<line x1="147.00" y1="361.57" x2="147.00" y2="364.77" stroke="#8c8c8c" stroke-width="0.4"/>
<text x="148.00" y="365.51" font-size="4.72" text-anchor="start" font-weight="bold" fill="#111" stroke="#111" stroke-width="0.25">*</text>
<text x="72.90" y="364.97" font-size="4.28" text-anchor="end" font-weight="bold" fill="#000" stroke="#000" stroke-width="0.1">modified iDCs (no. 1):T cells:10:1</text>
<text x="77.60" y="364.97" font-size="4.35" text-anchor="start" font-weight="bold" fill="#000" stroke="#000" stroke-width="0.1">fibroblasts (no. 1)</text>
<rect x="117.30" y="367.89" width="64.40" height="7.10" fill="#000"/>
<line x1="181.70" y1="371.44" x2="191.50" y2="371.44" stroke="#8c8c8c" stroke-width="0.4"/>
<line x1="191.50" y1="369.84" x2="191.50" y2="373.04" stroke="#8c8c8c" stroke-width="0.4"/>
<text x="72.90" y="373.24" font-size="4.28" text-anchor="end" font-weight="bold" fill="#000" stroke="#000" stroke-width="0.1">modified mDCs (no. 1):T cells:100:1</text>
<text x="77.60" y="373.24" font-size="4.35" text-anchor="start" font-weight="bold" fill="#000" stroke="#000" stroke-width="0.1">fibroblasts (no. 1)</text>
<rect x="117.30" y="376.16" width="44.40" height="7.10" fill="#000"/>
<line x1="161.70" y1="379.71" x2="169.40" y2="379.71" stroke="#8c8c8c" stroke-width="0.4"/>
<line x1="169.40" y1="378.11" x2="169.40" y2="381.31" stroke="#8c8c8c" stroke-width="0.4"/>
<text x="170.40" y="382.05" font-size="4.72" text-anchor="start" font-weight="bold" fill="#111" stroke="#111" stroke-width="0.25">*</text>
<text x="72.90" y="381.51" font-size="4.28" text-anchor="end" font-weight="bold" fill="#000" stroke="#000" stroke-width="0.1">modified mDCs (no. 1):T cells:50:1</text>
<text x="77.60" y="381.51" font-size="4.35" text-anchor="start" font-weight="bold" fill="#000" stroke="#000" stroke-width="0.1">fibroblasts (no. 1)</text>
<rect x="117.30" y="384.43" width="30.50" height="7.10" fill="#000"/>
<line x1="147.80" y1="387.98" x2="155.20" y2="387.98" stroke="#8c8c8c" stroke-width="0.4"/>
<line x1="155.20" y1="386.38" x2="155.20" y2="389.58" stroke="#8c8c8c" stroke-width="0.4"/>
<text x="156.20" y="390.32" font-size="4.72" text-anchor="start" font-weight="bold" fill="#111" stroke="#111" stroke-width="0.25">*</text>
<text x="72.90" y="389.78" font-size="4.28" text-anchor="end" font-weight="bold" fill="#000" stroke="#000" stroke-width="0.1">modified mDCs (no. 1):T cells:10:1</text>
<text x="77.60" y="389.78" font-size="4.35" text-anchor="start" font-weight="bold" fill="#000" stroke="#000" stroke-width="0.1">fibroblasts (no. 1)</text>
<rect x="117.30" y="392.70" width="68.70" height="7.10" fill="#000"/>
<line x1="186.00" y1="396.25" x2="193.70" y2="396.25" stroke="#8c8c8c" stroke-width="0.4"/>
<line x1="193.70" y1="394.65" x2="193.70" y2="397.85" stroke="#8c8c8c" stroke-width="0.4"/>
<text x="72.90" y="398.05" font-size="4.28" text-anchor="end" font-weight="bold" fill="#000" stroke="#000" stroke-width="0.1">normal iDCs (no. 2):T cells:10:1</text>
<text x="77.60" y="398.05" font-size="4.35" text-anchor="start" font-weight="bold" fill="#000" stroke="#000" stroke-width="0.1">fibroblasts (no. 1)</text>
<rect x="117.30" y="400.97" width="79.70" height="7.10" fill="#000"/>
<line x1="197.00" y1="404.52" x2="207.00" y2="404.52" stroke="#8c8c8c" stroke-width="0.4"/>
<line x1="207.00" y1="402.92" x2="207.00" y2="406.12" stroke="#8c8c8c" stroke-width="0.4"/>
<text x="72.90" y="406.32" font-size="4.28" text-anchor="end" font-weight="bold" fill="#000" stroke="#000" stroke-width="0.1">normal mDCs (no. 2):T cells:10:1</text>
<text x="77.60" y="406.32" font-size="4.35" text-anchor="start" font-weight="bold" fill="#000" stroke="#000" stroke-width="0.1">fibroblasts (no. 1)</text>
<rect x="117.30" y="409.24" width="64.40" height="7.10" fill="#000"/>
<line x1="181.70" y1="412.79" x2="189.00" y2="412.79" stroke="#8c8c8c" stroke-width="0.4"/>
<line x1="189.00" y1="411.19" x2="189.00" y2="414.39" stroke="#8c8c8c" stroke-width="0.4"/>
<text x="72.90" y="414.59" font-size="4.28" text-anchor="end" font-weight="bold" fill="#000" stroke="#000" stroke-width="0.1">modified iDCs (no. 2):T cells:10:1</text>
<text x="77.60" y="414.59" font-size="4.35" text-anchor="start" font-weight="bold" fill="#000" stroke="#000" stroke-width="0.1">fibroblasts (no. 1)</text>
<rect x="117.30" y="417.51" width="65.70" height="7.10" fill="#000"/>
<line x1="183.00" y1="421.06" x2="190.00" y2="421.06" stroke="#8c8c8c" stroke-width="0.4"/>
<line x1="190.00" y1="419.46" x2="190.00" y2="422.66" stroke="#8c8c8c" stroke-width="0.4"/>
<text x="72.90" y="422.86" font-size="4.28" text-anchor="end" font-weight="bold" fill="#000" stroke="#000" stroke-width="0.1">modified mDCs (no. 2):T cells:10:1</text>
<text x="77.60" y="422.86" font-size="4.35" text-anchor="start" font-weight="bold" fill="#000" stroke="#000" stroke-width="0.1">fibroblasts (no. 1)</text>
<text x="117.30" y="431.00" font-size="4.1" text-anchor="middle" font-weight="bold" fill="#000" stroke="#000" stroke-width="0.1">0</text>
<text x="146.80" y="431.00" font-size="4.1" text-anchor="middle" font-weight="bold" fill="#000" stroke="#000" stroke-width="0.1">20</text>
<text x="176.30" y="431.00" font-size="4.1" text-anchor="middle" font-weight="bold" fill="#000" stroke="#000" stroke-width="0.1">40</text>
<text x="205.80" y="431.00" font-size="4.1" text-anchor="middle" font-weight="bold" fill="#000" stroke="#000" stroke-width="0.1">60</text>
<text x="235.30" y="431.00" font-size="4.1" text-anchor="middle" font-weight="bold" fill="#000" stroke="#000" stroke-width="0.1">80</text>
<text x="264.80" y="431.00" font-size="4.1" text-anchor="middle" font-weight="bold" fill="#000" stroke="#000" stroke-width="0.1">100</text>
<text x="190.20" y="439.00" font-size="5.3" text-anchor="middle" font-weight="bold" fill="#000" stroke="#000" stroke-width="0.1">% specific lysis</text>
<text x="279.90" y="37.50" font-size="3.5" text-anchor="start" font-weight="bold" fill="#000" stroke="#000" stroke-width="0.1">first coculture</text>
<text x="279.90" y="41.20" font-size="3.5" text-anchor="start" font-weight="bold" fill="#000" stroke="#000" stroke-width="0.1">second coculture with normal</text>
<text x="279.90" y="45.10" font-size="3.5" text-anchor="start" font-weight="bold" fill="#000" stroke="#000" stroke-width="0.1">mDCs (same donor)</text>
</g>
</svg>
</body></html>
